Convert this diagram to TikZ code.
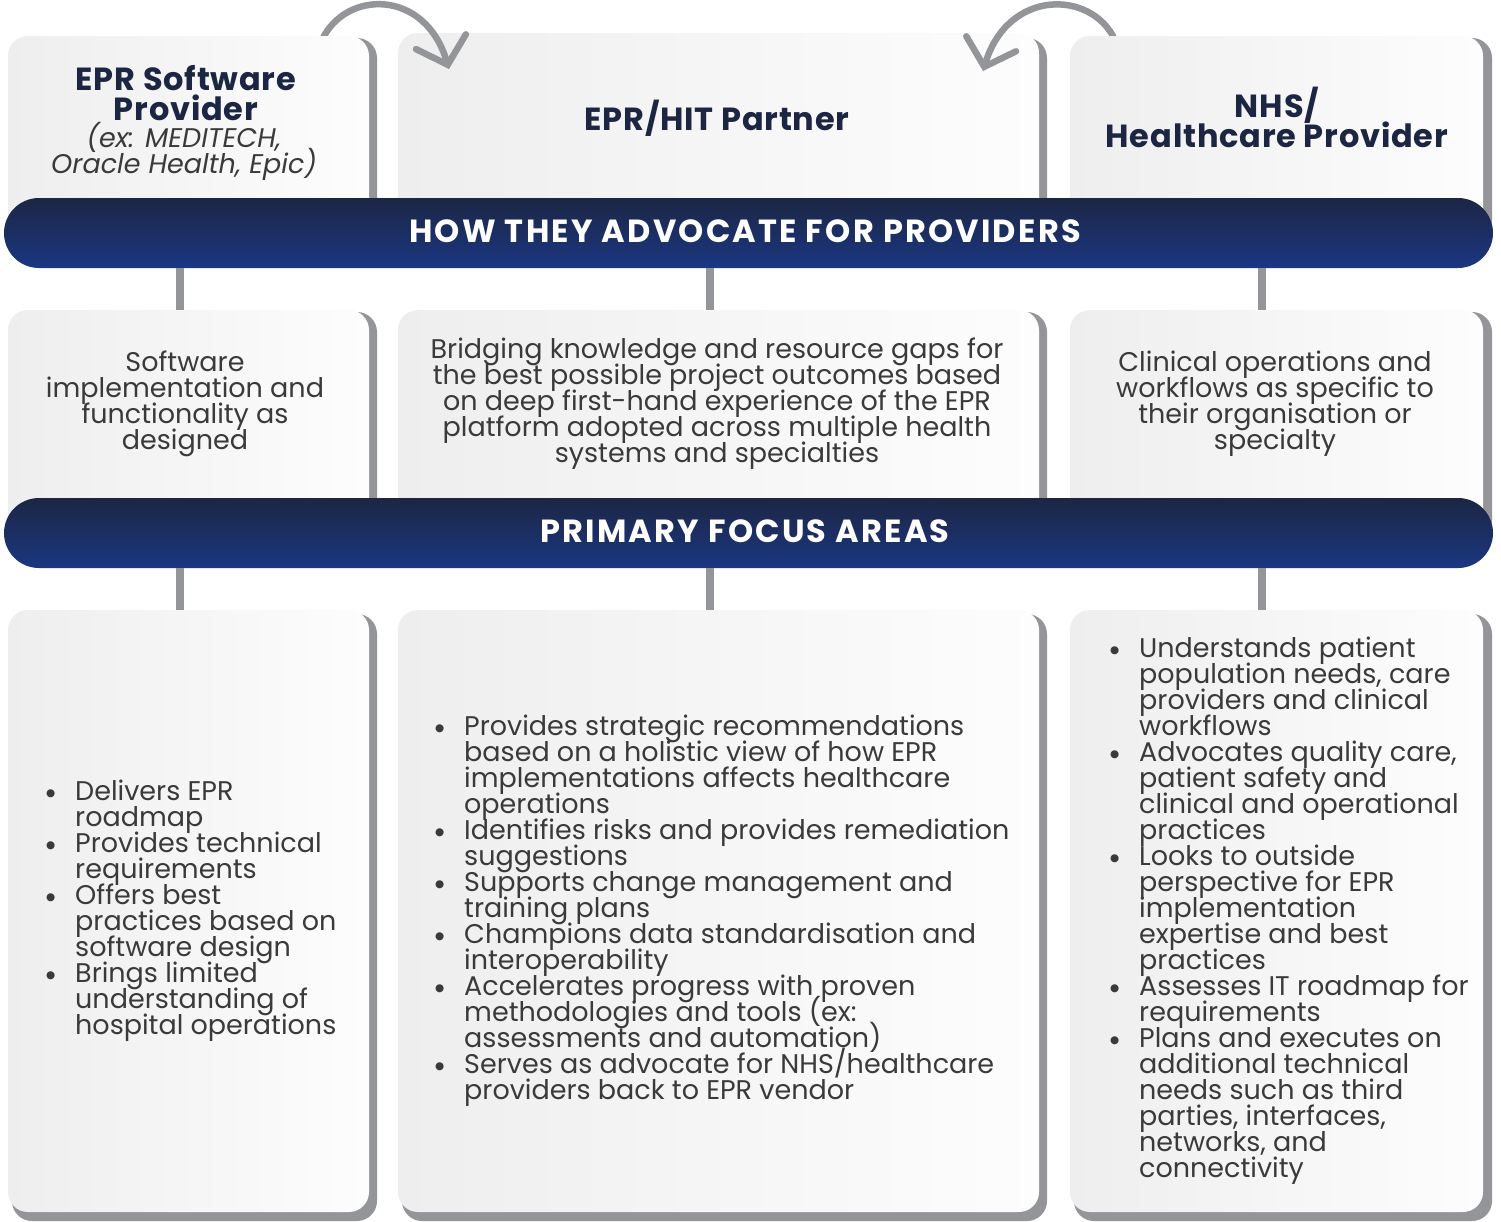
\documentclass[tikz,border=0pt]{standalone}
\usepackage{fontspec}
\setmainfont{Poppins}
\newfontfamily\symfont{DejaVu Sans}
\usetikzlibrary{arrows.meta}
\definecolor{navy}{HTML}{1C2643}
\definecolor{navytop}{HTML}{1C2644}
\definecolor{navybot}{HTML}{1B3782}
\definecolor{shadowgray}{HTML}{939598}
\definecolor{boxl}{HTML}{EEEEEE}
\definecolor{boxr}{HTML}{FDFDFD}
\definecolor{bodytext}{HTML}{3A3A3A}
\setlength{\lineskiplimit}{-100pt}
\setlength{\lineskip}{0pt}
\setlength{\normallineskiplimit}{-100pt}
\setlength{\normallineskip}{0pt}
\newcommand\bl[1]{\par\hangindent=29pt\hangafter=1\noindent\makebox[29pt][l]{\raisebox{4pt}{\symfont\fontsize{10.5}{10}\selectfont ●}}#1}
\newcommand\listfont{\fontsize{27}{26}\selectfont\lineskiplimit=-100pt\lineskip=0pt\relax}
\tikzset{
  boxshade/.style={left color=boxl, right color=boxr, rounded corners=20},
  boxshadow/.style={fill=shadowgray, rounded corners=20},
  banner/.style={top color=navytop, bottom color=navybot, rounded corners=35},
  bannertext/.style={text=white, font=\fontsize{32}{32}\selectfont\bfseries\addfontfeatures{LetterSpace=7}, inner sep=0},
  titletext/.style={text=navy, font=\fontsize{32}{30}\selectfont\bfseries\addfontfeatures{LetterSpace=2.5}, align=center, inner sep=0},
  bodytxt/.style={text=bodytext, font=\fontsize{27}{26}\selectfont, align=center, inner sep=0},
  listtxt/.style={text=bodytext, font=\listfont, inner sep=0, anchor=west},
  conn/.style={draw=shadowgray, line width=8},
  curvearrow/.style={draw=shadowgray, line width=6.5, line cap=round, -{Straight Barb[length=24, width=52, line cap=round]}}
}
\begin{document}
\begin{tikzpicture}[x=1pt,y=-1pt]
\useasboundingbox (0,0) rectangle (1501,1221);
\fill[white] (0,0) rectangle (1501,1221);
% ---------- top row ----------
\fill[boxshadow] (402,38) rectangle (1047,240);
\shade[boxshade] (398,33) rectangle (1039,240);
% arrows
\coordinate (a1s) at (322,40);
\coordinate (a1e) at (449,69);
\coordinate (a2s) at (1115,40);
\coordinate (a2e) at (983,71);
\draw[curvearrow] (a1s) .. controls (345,-10) and (425,-12) .. (a1e);
\draw[curvearrow] (a2s) .. controls (1092,-10) and (1008,-12) .. (a2e);
\fill[boxshadow] (12,38) rectangle (377,240);
\shade[boxshade] (8,36) rectangle (369,240);
\fill[boxshadow] (1074,38) rectangle (1492,240);
\shade[boxshade] (1070,36) rectangle (1483,240);
% ---------- middle row ----------
\fill[boxshadow] (12,312) rectangle (377,540);
\shade[boxshade] (8,310) rectangle (369,540);
\fill[boxshadow] (402,312) rectangle (1047,540);
\shade[boxshade] (398,310) rectangle (1039,540);
\fill[boxshadow] (1074,312) rectangle (1492,540);
\shade[boxshade] (1070,310) rectangle (1483,540);
% ---------- bottom row ----------
\fill[boxshadow] (12,614) rectangle (377,1221);
\shade[boxshade] (8,610) rectangle (369,1212);
\fill[boxshadow] (402,614) rectangle (1047,1221);
\shade[boxshade] (398,610) rectangle (1039,1212);
\fill[boxshadow] (1074,614) rectangle (1492,1221);
\shade[boxshade] (1070,610) rectangle (1483,1212);
% ---------- banners ----------
\shade[banner] (4,198) rectangle (1493,268);
\shade[banner] (4,498) rectangle (1493,568);
\node[bannertext] (b1) at (745,231) {HOW THEY ADVOCATE FOR PROVIDERS};
\node[bannertext] (b2) at (745,531) {PRIMARY FOCUS AREAS};
% connectors
\coordinate (c1a) at (180,268); \coordinate (c1b) at (180,310);
\coordinate (c2a) at (710,268); \coordinate (c2b) at (710,310);
\coordinate (c3a) at (1262,268); \coordinate (c3b) at (1262,310);
\coordinate (c4a) at (180,568); \coordinate (c4b) at (180,610);
\coordinate (c5a) at (710,568); \coordinate (c5b) at (710,610);
\coordinate (c6a) at (1262,568); \coordinate (c6b) at (1262,610);
\draw[conn] (c1a) -- (c1b); \draw[conn] (c2a) -- (c2b); \draw[conn] (c3a) -- (c3b);
\draw[conn] (c4a) -- (c4b); \draw[conn] (c5a) -- (c5b); \draw[conn] (c6a) -- (c6b);
% ---------- top texts ----------
\node[titletext] (t1) at (186,93) {EPR Software\\Provider};
\node[bodytxt, font=\fontsize{27}{26}\selectfont\itshape] (t1b) at (184,151) {(ex: MEDITECH,\\Oracle Health, Epic)};
\node[titletext] (t2) at (717,118) {EPR/HIT Partner};
\node[titletext] (t3) at (1277,117) {NHS/\\Healthcare Provider};
% ---------- middle texts ----------
\node[bodytxt] (m1) at (185,404) {Software\\implementation and\\functionality as\\designed};
\node[bodytxt] (m2) at (717,404) {Bridging knowledge and resource gaps for\\the best possible project outcomes based\\on deep first-hand experience of the EPR\\platform adopted across multiple health\\systems and specialties};
\node[bodytxt] (m3) at (1275,404) {Clinical operations and\\workflows as specific to\\their organisation or\\specialty};
% ---------- bottom lists ----------
\node[listtxt] (l1) at (46,911) {\begin{minipage}{320pt}\listfont\raggedright
\bl{Delivers EPR\newline roadmap}
\bl{Provides technical\newline requirements}
\bl{Offers best\newline practices based on\newline software design}
\bl{Brings limited\newline understanding of\newline hospital operations}\end{minipage}};
\node[listtxt] (l2) at (435,911) {\begin{minipage}{600pt}\listfont\raggedright
\bl{Provides strategic recommendations\newline based on a holistic view of how EPR\newline implementations affects healthcare\newline operations}
\bl{Identifies risks and provides remediation\newline suggestions}
\bl{Supports change management and\newline training plans}
\bl{Champions data standardisation and\newline interoperability}
\bl{Accelerates progress with proven\newline methodologies and tools (ex:\newline assessments and automation)}
\bl{Serves as advocate for NHS/healthcare\newline providers back to EPR vendor}\end{minipage}};
\node[listtxt] (l3) at (1110,911) {\begin{minipage}{380pt}\listfont\raggedright
\bl{Understands patient\newline population needs, care\newline providers and clinical\newline workflows}
\bl{Advocates quality care,\newline patient safety and\newline clinical and operational\newline practices}
\bl{Looks to outside\newline perspective for EPR\newline implementation\newline expertise and best\newline practices}
\bl{Assesses IT roadmap for\newline requirements}
\bl{Plans and executes on\newline additional technical\newline needs such as third\newline parties, interfaces,\newline networks, and\newline connectivity}\end{minipage}};
\end{tikzpicture}
\end{document}
